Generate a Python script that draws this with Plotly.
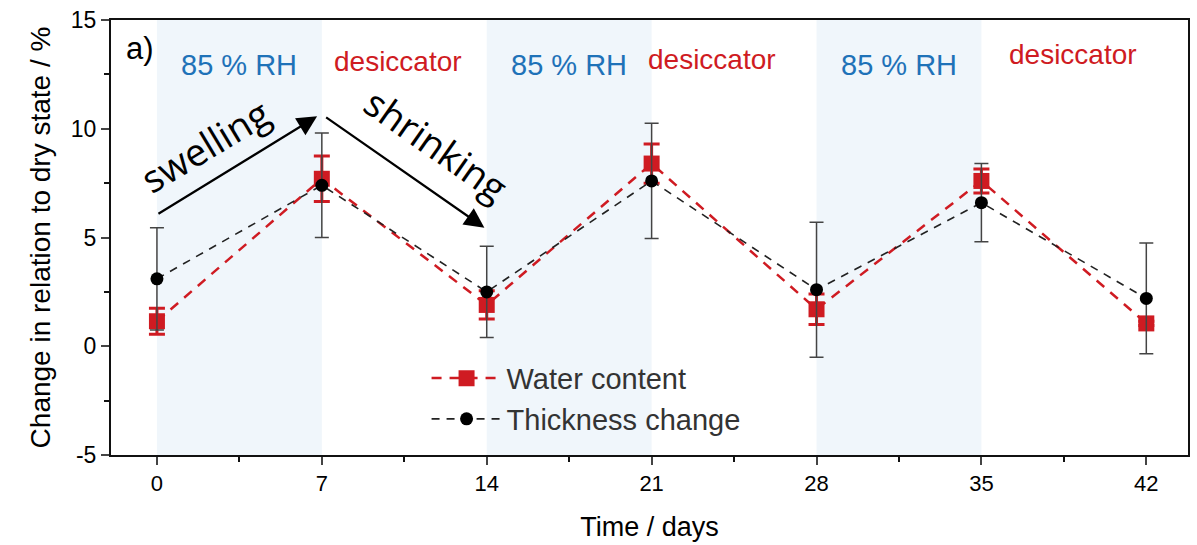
import plotly.graph_objects as go

days = [0, 7, 14, 21, 28, 35, 42]
water = [1.15, 7.7, 1.9, 8.4, 1.7, 7.6, 1.05]
water_err = [0.6, 1.05, 0.65, 0.9, 0.7, 0.55, 0.1]
thick = [3.1, 7.4, 2.5, 7.6, 2.6, 6.6, 2.2]
thick_err = [2.35, 2.4, 2.1, 2.65, 3.1, 1.8, 2.55]

y_ticks = [-5, 0, 5, 10, 15]
y_ticktext = ["-5", "0", "5", "10", "15"]

humid_periods = [(0, 7), (14, 21), (28, 35)]
rh_label_x = [3.5, 17.5, 31.5]
desic_label_x = [10.25, 23.55, 38.9]
desic_label_y = [13.1, 13.2, 13.4]

RED = "#cf1b22"
BLUE = "#1f72b8"

fig = go.Figure()

for x0, x1 in humid_periods:
    fig.add_shape(type="rect", xref="x", yref="paper", x0=x0, x1=x1, y0=0, y1=1,
                  fillcolor="rgb(240,246,251)", line_width=0, layer="below")

fig.add_trace(go.Scatter(
    x=days, y=water, name="Water content", mode="lines+markers",
    line=dict(color=RED, width=2.5, dash="10px,8px"),
    marker=dict(symbol="square", size=16, color=RED),
    error_y=dict(type="data", array=water_err, color=RED, thickness=3, width=8),
))
fig.add_trace(go.Scatter(
    x=days, y=thick, name="Thickness change", mode="lines+markers",
    line=dict(color="#222222", width=1.6, dash="8px,7px"),
    marker=dict(symbol="circle", size=13, color="black"),
    error_y=dict(type="data", array=thick_err, color="#444444", thickness=1.5, width=7),
))

annotations = []
annotations.append(dict(x=-0.72, y=13.7, text="a)", showarrow=False,
                        font=dict(size=31, color="black", family="Liberation Sans, Arial")))
for xc in rh_label_x:
    annotations.append(dict(x=xc, y=12.95, text="85 % RH", showarrow=False,
                            font=dict(size=29, color=BLUE, family="Liberation Sans, Arial")))
for xc, yc in zip(desic_label_x, desic_label_y):
    annotations.append(dict(x=xc, y=yc, text="desiccator", showarrow=False,
                            font=dict(size=28, color=RED, family="Liberation Sans, Arial")))
# arrows
annotations.append(dict(x=6.8, y=10.57, ax=0, ay=6.05, xref="x", yref="y", axref="x", ayref="y",
                        text="", showarrow=True, arrowhead=2, arrowsize=1.8, arrowwidth=2.2,
                        arrowcolor="black"))
annotations.append(dict(x=13.9, y=5.45, ax=7.12, ay=10.57, xref="x", yref="y", axref="x", ayref="y",
                        text="", showarrow=True, arrowhead=2, arrowsize=1.8, arrowwidth=2.2,
                        arrowcolor="black"))
annotations.append(dict(x=2.05, y=9.25, text="swelling", showarrow=False, textangle=-31,
                        font=dict(size=38, color="black", family="Open Sans")))
annotations.append(dict(x=11.85, y=9.3, text="shrinking", showarrow=False, textangle=35,
                        font=dict(size=38, color="black", family="Open Sans")))

fig.update_layout(
    width=1197, height=545,
    margin=dict(l=111, r=7, t=16, b=90),
    plot_bgcolor="white", paper_bgcolor="white",
    font=dict(family="Liberation Sans, Arial", color="black"),
    annotations=annotations,
    legend=dict(x=0.293, y=0.235, xanchor="left", yanchor="top",
                bgcolor="rgba(0,0,0,0)", font=dict(size=29, color="#333333"),
                itemwidth=70, tracegroupgap=0),
    xaxis=dict(range=[-1.95, 43.77], tickvals=days, ticks="outside", ticklen=8, tickwidth=2,
               showline=True, linecolor="#111", linewidth=2, mirror=True, showgrid=False,
               zeroline=False, tickfont=dict(size=22),
               minor=dict(tickvals=[3.5, 10.5, 17.5, 24.5, 31.5, 38.5], ticks="outside",
                          ticklen=5, tickwidth=1.5, tickcolor="#111"),
               title=dict(text="Time / days", font=dict(size=27), standoff=22)),
    yaxis=dict(range=[-5, 15], tickvals=y_ticks, ticktext=y_ticktext, ticks="outside", ticklen=8,
               tickwidth=2, showline=True, linecolor="#111", linewidth=2, mirror=True,
               showgrid=False, zeroline=False, tickfont=dict(size=23),
               minor=dict(tickvals=[-2.5, 2.5, 7.5, 12.5], ticks="outside",
                          ticklen=5, tickwidth=1.5, tickcolor="#111"),
               title=dict(text="Change in relation to dry state / %", font=dict(size=28), standoff=12)),
)

fig.write_html("out.html")
